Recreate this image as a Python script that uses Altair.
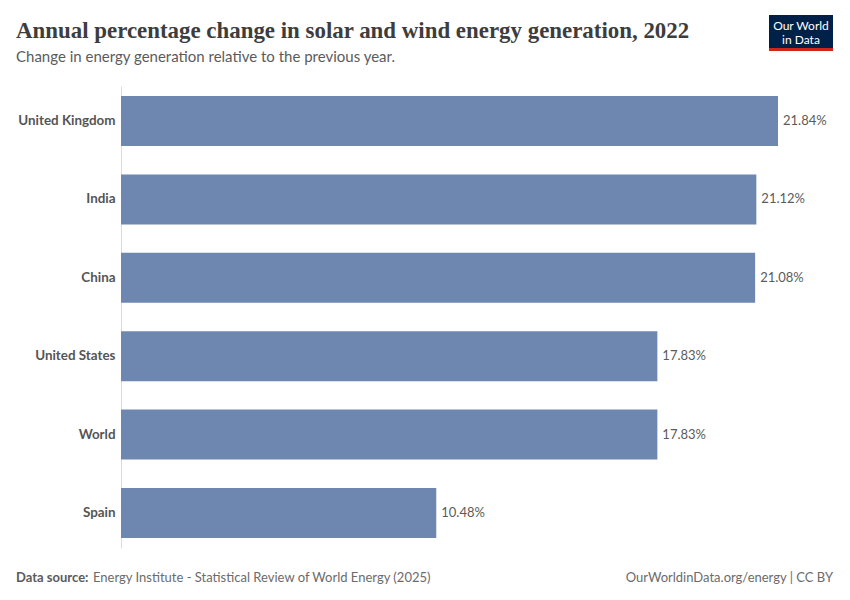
import altair as alt
import pandas as pd

countries = ["United Kingdom", "India", "China", "United States", "World", "Spain"]
values = [21.84, 21.12, 21.08, 17.83, 17.83, 10.48]
labels = [f"{v:.2f}%" for v in values]

title_text = "Annual percentage change in solar and wind energy generation, 2022"
subtitle_text = "Change in energy generation relative to the previous year."
source_bold = "Data source:"
source_text = "Energy Institute - Statistical Review of World Energy (2025)"
footer_right = "OurWorldinData.org/energy | CC BY"
logo_lines = ["Our World", "in Data"]

df = pd.DataFrame({"country": countries, "value": values, "label": labels})

y_enc = alt.Y(
    "country:N",
    sort=countries,
    scale=alt.Scale(paddingInner=0.362, paddingOuter=0.128),
    axis=alt.Axis(
        title=None, labelFont="Lato", labelFontWeight="bold", labelFontSize=13.4,
        labelColor="#555555", ticks=False, labelPadding=6,
        domainColor="#dcdcdc", domainWidth=1, grid=False,
    ),
)
x_enc = alt.X("value:Q", scale=alt.Scale(domain=[0, 21.84], nice=False, zero=True), axis=None)

base = alt.Chart(df)
bars = base.mark_bar(color="#6e87b0").encode(y=y_enc, x=x_enc)
vals = base.mark_text(align="left", baseline="middle", dx=5, font="Lato", fontSize=13,
                      color="#5b5b5b").encode(y=y_enc, x=x_enc, text="label:N")


def txt(t, x, y, **kw):
    return alt.Chart(pd.DataFrame({"t": [t]})).mark_text(**kw).encode(
        x=alt.value(x), y=alt.value(y), text="t:N")


title = txt(title_text, -105, -48, align="left", baseline="alphabetic",
            font="Liberation Serif", fontSize=22.9, fontWeight="bold", color="#3d3d3d")
subtitle = txt(subtitle_text, -105, -24, align="left", baseline="alphabetic",
               font="Lato", fontSize=15, color="#5b5b5b")
src_b = txt(source_bold, -105, 496, align="left", baseline="alphabetic",
            font="Lato", fontSize=13, fontWeight="bold", color="#5b5b5b")
src = txt(source_text, -28, 496, align="left", baseline="alphabetic",
          font="Lato", fontSize=13, color="#6b6b6b")
foot_r = txt(footer_right, 712, 496, align="right", baseline="alphabetic",
             font="Lato", fontSize=13, color="#6b6b6b")

logo_bg = alt.Chart(pd.DataFrame({"a": [0]})).mark_rect(color="#002147").encode(
    x=alt.value(648), x2=alt.value(712), y=alt.value(-71), y2=alt.value(-38))
logo_red = alt.Chart(pd.DataFrame({"a": [0]})).mark_rect(color="#ce261e").encode(
    x=alt.value(648), x2=alt.value(712), y=alt.value(-38), y2=alt.value(-35))
logo1 = txt(logo_lines[0], 680, -56, align="center", baseline="alphabetic",
            font="Lato", fontSize=12, color="white")
logo2 = txt(logo_lines[1], 680, -42, align="center", baseline="alphabetic",
            font="Lato", fontSize=12, color="white")

chart = alt.layer(bars, vals, title, subtitle, src_b, src, foot_r,
                  logo_bg, logo_red, logo1, logo2).properties(
    width=657, height=462,
    autosize=alt.AutoSizeParams(type="none"),
    padding={"left": 113, "top": 78, "right": 64, "bottom": 44},
).configure_view(stroke=None)

chart.save("out.html", embed_options={"renderer": "svg", "actions": False})
